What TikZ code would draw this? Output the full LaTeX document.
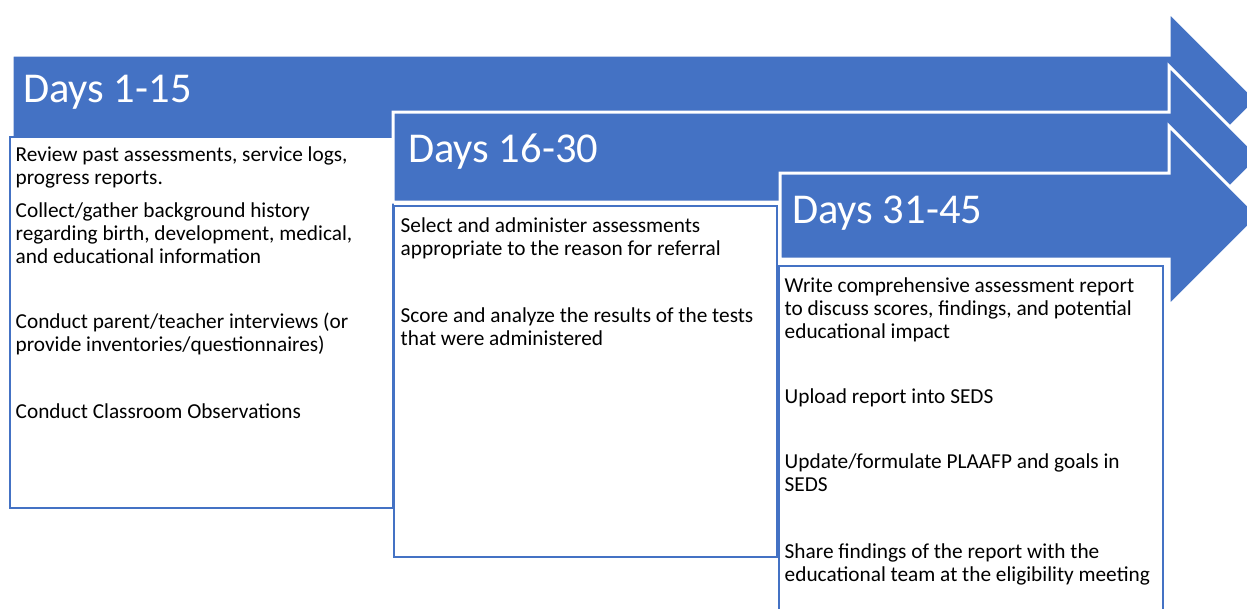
\documentclass[tikz,border=0pt]{standalone}
\usepackage{fontspec}
\setmainfont{Carlito}
\definecolor{accent}{HTML}{4472C4}
\tikzset{
  arrowshape/.style={fill=accent, draw=white, line width=3pt, line join=miter},
  textbox/.style={fill=white, draw=accent, line width=2pt},
  heading/.style={anchor=base west, inner sep=0pt, text=white, font=\fontsize{42.5}{51}\selectfont},
  item/.style={anchor=base west, inner sep=0pt, text=black, font=\fontsize{21.3}{23}\selectfont},
}
\begin{document}
\begin{tikzpicture}[x=1pt, y=-1pt]
\useasboundingbox (0,0) rectangle (1247,608);
% arrow 1 and its box
\filldraw[arrowshape] (12,55) -- (1169,55) -- (1169,12) -- (1257,100) -- (1169,188) -- (1169,145) -- (12,145) -- cycle;
\node[heading] (h1) at (23,102) {Days 1-15};
\draw[textbox] (10,137) rectangle (393,508);
\node[item] (a1) at (15.5,161) {\vtop{\hbox{Review past assessments, service logs,}\hbox{progress reports.}}};
\node[item] (a2) at (15.5,217) {\vtop{\hbox{Collect/gather background history}\hbox{regarding birth, development, medical,}\hbox{and educational information}}};
\node[item] (a3) at (15.5,328) {\vtop{\hbox{Conduct parent/teacher interviews (or}\hbox{provide inventories/questionnaires)}}};
\node[item] (a4) at (15.5,418) {Conduct Classroom Observations};
% arrow 2 and its box
\filldraw[arrowshape] (393,112) -- (1169,112) -- (1169,66) -- (1260,157) -- (1169,248) -- (1169,202) -- (393,202) -- cycle;
\node[heading] (h2) at (408,162) {Days 16-30};
\draw[textbox] (394,206) rectangle (777,557);
\node[item] (b1) at (400.5,232) {\vtop{\hbox{Select and administer assessments}\hbox{appropriate to the reason for referral}}};
\node[item] (b2) at (400.5,322) {\vtop{\hbox{Score and analyze the results of the tests}\hbox{that were administered}}};
% arrow 3 and its box
\filldraw[arrowshape] (780,173) -- (1169,173) -- (1169,126) -- (1259,216) -- (1169,306) -- (1169,259) -- (780,259) -- cycle;
\node[heading] (h3) at (792,223) {Days 31-45};
\draw[textbox] (779,266) rectangle (1163,620);
\node[item] (c1) at (784.5,292) {\vtop{\hbox{Write comprehensive assessment report}\hbox{to discuss scores, findings, and potential}\hbox{educational impact}}};
\node[item] (c2) at (784.5,403) {Upload report into SEDS};
\node[item] (c3) at (784.5,468) {\vtop{\hbox{Update/formulate PLAAFP and goals in}\hbox{SEDS}}};
\node[item] (c4) at (784.5,558) {\vtop{\hbox{Share findings of the report with the}\hbox{educational team at the eligibility meeting}}};
\end{tikzpicture}
\end{document}
